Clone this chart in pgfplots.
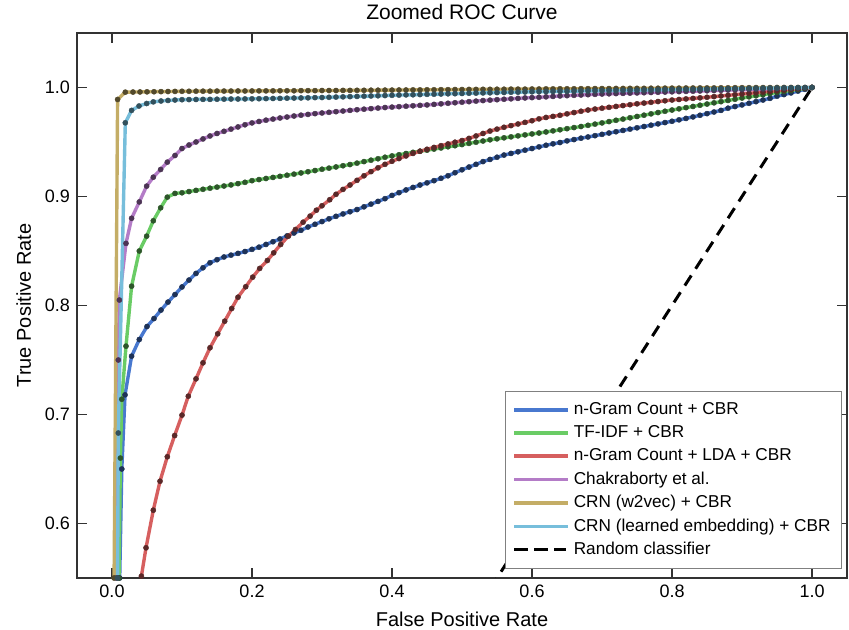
\documentclass[border=0pt]{standalone}
\usepackage{fontspec}
\setmainfont{Liberation Sans}
\usepackage{pgfplots}
\pgfplotsset{compat=1.18}

\definecolor{cblue}{HTML}{4878CF}
\definecolor{cgreen}{HTML}{6ACC65}
\definecolor{cred}{HTML}{D65F5F}
\definecolor{cpurple}{HTML}{B47CC7}
\definecolor{cgold}{HTML}{C4AD66}
\definecolor{ccyan}{HTML}{77BEDB}

\pgfplotsset{
  roc/.style={line width=1.7pt, color=#1, mark=*, mark size=1.3pt,
    mark options={solid, line width=0.2pt, draw=#1!42!black, fill=#1!42!black}},
}

\begin{document}
\begin{tikzpicture}
\useasboundingbox (-38.5pt,-26pt) rectangle (386pt,289pt);
\begin{axis}[
    at={(0,0)}, anchor=south west,
    scale only axis,
    width=385pt, height=272.5pt,
    xmin=-0.05, xmax=1.05,
    ymin=0.55, ymax=1.05,
    xtick={0,0.2,0.4,0.6,0.8,1},
    ytick={0.6,0.7,0.8,0.9,1},
    xticklabel style={/pgf/number format/.cd,fixed,fixed zerofill,precision=1},
    yticklabel style={/pgf/number format/.cd,fixed,fixed zerofill,precision=1},
    /pgf/number format/assume math mode=true,
    ticklabel style={font=\fontsize{9}{11}\selectfont},
    tick align=inside,
    major tick length=5pt,
    tick style={line width=0.8pt, black!80},
    axis line style={line width=1pt, black!80},
    title={Zoomed ROC Curve},
    title style={font=\fontsize{10.5}{12}\selectfont, yshift=-3pt},
    xlabel={False Positive Rate},
    ylabel={True Positive Rate},
    label style={font=\fontsize{10}{12}\selectfont},
    legend image code/.code={
      \draw[#1, mark=none] (1pt,0pt) -- (21pt,0pt);
      \path (0pt,0pt) -- (27pt,0pt);},
    legend style={at={(0.9935,0.0165)}, anchor=south east,
      draw=black!50, line width=0.5pt, fill=white,
      font=\fontsize{8.6}{10}\selectfont, cells={anchor=west},
      row sep=0pt, inner sep=3.5pt},
]
% n-Gram Count + CBR
\addplot[roc=cblue] coordinates {
(0.011,0.55)(0.014,0.65)(0.0186,0.718)(0.028,0.7535)(0.039,0.7688)(0.05,0.7807)
(0.06,0.788)(0.07,0.7958)(0.08,0.8031)(0.09,0.81)
(0.10,0.817)(0.11,0.8233)(0.12,0.8294)(0.13,0.8346)(0.14,0.8392)(0.15,0.842)
(0.16,0.8445)(0.17,0.8462)(0.18,0.8478)(0.19,0.8495)(0.20,0.8515)(0.21,0.8535)
(0.22,0.856)(0.23,0.8585)(0.24,0.861)(0.25,0.8638)(0.26,0.8665)(0.27,0.869)
(0.28,0.872)(0.29,0.8745)(0.30,0.877)(0.31,0.8795)(0.32,0.8818)(0.33,0.884)
(0.34,0.886)(0.35,0.888)(0.36,0.8905)(0.37,0.893)(0.38,0.8955)(0.39,0.898)
(0.40,0.901)(0.41,0.9035)(0.42,0.906)(0.43,0.9083)(0.44,0.9105)(0.45,0.9125)
(0.46,0.9145)(0.47,0.9167)(0.48,0.919)(0.49,0.9218)(0.50,0.9245)(0.51,0.927)
(0.52,0.9295)(0.53,0.932)(0.54,0.934)(0.55,0.936)(0.56,0.938)(0.57,0.9395)
(0.58,0.941)(0.59,0.9425)(0.60,0.944)(0.61,0.9455)(0.62,0.947)(0.63,0.9483)
(0.64,0.9495)(0.65,0.951)(0.66,0.9522)(0.67,0.9535)(0.68,0.9546)(0.69,0.9558)
(0.70,0.957)(0.71,0.9582)(0.72,0.9594)(0.73,0.9606)(0.74,0.9618)(0.75,0.963)
(0.76,0.9642)(0.77,0.9654)(0.78,0.9666)(0.79,0.9678)(0.80,0.969)(0.81,0.9703)
(0.82,0.9716)(0.83,0.973)(0.84,0.9745)(0.85,0.976)(0.86,0.9775)(0.87,0.979)
(0.88,0.981)(0.89,0.9825)(0.90,0.984)(0.91,0.9855)(0.92,0.987)(0.93,0.9885)
(0.94,0.990)(0.95,0.992)(0.96,0.9935)(0.97,0.995)(0.98,0.9967)(0.99,0.9983)(1.00,1.0)
};
\addlegendentry{n-Gram Count + CBR}
% TF-IDF + CBR
\addplot[roc=cgreen] coordinates {
(0.01,0.55)(0.012,0.66)(0.014,0.714)(0.02,0.7627)(0.028,0.8177)(0.039,0.85)
(0.0495,0.8636)(0.059,0.8777)(0.0695,0.8896)(0.079,0.8994)(0.09,0.9028)
(0.10,0.9034)(0.11,0.9045)(0.12,0.9056)(0.13,0.9066)(0.14,0.9076)(0.15,0.9086)
(0.16,0.9096)(0.17,0.9106)(0.18,0.9118)(0.19,0.913)(0.20,0.9145)(0.21,0.9155)
(0.22,0.9165)(0.23,0.9175)(0.24,0.9185)(0.25,0.9195)(0.26,0.9205)(0.27,0.9216)
(0.28,0.9227)(0.29,0.9238)(0.30,0.925)(0.31,0.926)(0.32,0.9271)(0.33,0.9282)
(0.34,0.9293)(0.35,0.9306)(0.36,0.932)(0.37,0.9333)(0.38,0.9346)(0.39,0.936)
(0.40,0.9372)(0.41,0.9383)(0.42,0.9394)(0.43,0.9405)(0.44,0.9415)(0.45,0.9425)
(0.46,0.9435)(0.47,0.9445)(0.48,0.9456)(0.49,0.9466)(0.50,0.9476)(0.51,0.9487)
(0.52,0.9498)(0.53,0.9509)(0.54,0.952)(0.55,0.9529)(0.56,0.9538)(0.57,0.9547)
(0.58,0.9556)(0.59,0.9565)(0.60,0.9574)(0.61,0.9582)(0.62,0.9592)(0.63,0.9602)
(0.64,0.9612)(0.65,0.9622)(0.66,0.9632)(0.67,0.9642)(0.68,0.9653)(0.69,0.9664)
(0.70,0.9675)(0.71,0.9687)(0.72,0.9699)(0.73,0.971)(0.74,0.9722)(0.75,0.9734)
(0.76,0.9746)(0.77,0.9758)(0.78,0.977)(0.79,0.9782)(0.80,0.9793)(0.81,0.9804)
(0.82,0.9815)(0.83,0.9826)(0.84,0.9837)(0.85,0.9848)(0.86,0.9859)(0.87,0.987)
(0.88,0.9881)(0.89,0.9892)(0.90,0.9903)(0.91,0.9914)(0.92,0.9924)(0.93,0.9934)
(0.94,0.9944)(0.95,0.9954)(0.96,0.9963)(0.97,0.9972)(0.98,0.9981)(0.99,0.9991)(1.00,1.0)
};
\addlegendentry{TF-IDF + CBR}
% n-Gram Count + LDA + CBR
\addplot[roc=cred] coordinates {
(0.042,0.5517)(0.0486,0.5777)(0.059,0.6122)(0.0686,0.6388)(0.079,0.6612)(0.0895,0.6807)
(0.1,0.6994)(0.109,0.7168)(0.12,0.7327)(0.13,0.7474)(0.14,0.7612)(0.151,0.774)
(0.161,0.7856)(0.171,0.7972)(0.18,0.8076)(0.191,0.8172)(0.201,0.826)(0.211,0.834)
(0.222,0.8413)(0.231,0.8483)(0.241,0.856)(0.252,0.8636)(0.262,0.8697)(0.273,0.8764)
(0.283,0.882)(0.292,0.8874)(0.30,0.8915)(0.311,0.897)
(0.32,0.902)(0.33,0.9065)(0.34,0.9105)(0.35,0.9148)(0.36,0.919)(0.37,0.9228)
(0.38,0.9263)(0.39,0.9295)(0.40,0.9323)(0.41,0.9348)(0.42,0.9372)(0.43,0.9395)
(0.44,0.9415)(0.45,0.9433)(0.46,0.945)(0.47,0.9466)(0.48,0.9482)(0.49,0.9498)
(0.50,0.9513)(0.51,0.9533)(0.52,0.9555)(0.53,0.9578)(0.54,0.960)(0.55,0.9618)
(0.56,0.9635)(0.57,0.965)(0.58,0.9665)(0.59,0.968)(0.60,0.9695)(0.61,0.9712)
(0.62,0.9725)(0.63,0.9735)(0.64,0.9745)(0.65,0.9758)(0.66,0.977)(0.67,0.9782)
(0.68,0.9793)(0.69,0.9802)(0.70,0.981)(0.71,0.9818)(0.72,0.9826)(0.73,0.9834)
(0.74,0.9842)(0.75,0.985)(0.76,0.9857)(0.77,0.9864)(0.78,0.9871)(0.79,0.9878)
(0.80,0.9885)(0.81,0.989)(0.82,0.9895)(0.83,0.99)(0.84,0.9905)(0.85,0.991)
(0.86,0.9916)(0.87,0.9922)(0.88,0.9928)(0.89,0.9934)(0.90,0.994)(0.91,0.9946)
(0.92,0.9952)(0.93,0.9958)(0.94,0.9964)(0.95,0.997)(0.96,0.9976)(0.97,0.9982)
(0.98,0.9988)(0.99,0.9994)(1.00,1.0)
};
\addlegendentry{n-Gram Count + LDA + CBR}
% Chakraborty et al.
\addplot[roc=cpurple] coordinates {
(0.006,0.55)(0.009,0.75)(0.0105,0.805)(0.02,0.857)(0.028,0.880)(0.039,0.895)
(0.0495,0.9095)(0.059,0.9177)(0.0695,0.9248)(0.079,0.9315)(0.09,0.9376)
(0.10,0.944)(0.11,0.9472)(0.12,0.950)(0.13,0.9528)(0.14,0.9555)(0.15,0.9578)
(0.16,0.9598)(0.17,0.9618)(0.18,0.9638)(0.19,0.9658)(0.20,0.9675)(0.21,0.9688)
(0.22,0.970)(0.23,0.971)(0.24,0.972)(0.25,0.9729)(0.26,0.9738)(0.27,0.9746)
(0.28,0.9753)(0.29,0.976)(0.30,0.9766)(0.31,0.9772)(0.32,0.9778)(0.33,0.9784)
(0.34,0.979)(0.35,0.9796)(0.36,0.9801)(0.37,0.9806)(0.38,0.9811)(0.39,0.9816)
(0.40,0.982)(0.41,0.9824)(0.42,0.9828)(0.43,0.9832)(0.44,0.9836)(0.45,0.984)
(0.46,0.9845)(0.47,0.985)(0.48,0.9855)(0.49,0.986)(0.50,0.9865)(0.51,0.987)
(0.52,0.9875)(0.53,0.988)(0.54,0.9884)(0.55,0.9888)(0.56,0.9892)(0.57,0.9896)
(0.58,0.99)(0.59,0.9904)(0.60,0.9907)(0.61,0.991)(0.62,0.9914)(0.63,0.9918)
(0.64,0.9922)(0.65,0.9925)(0.66,0.9928)(0.67,0.9931)(0.68,0.9934)(0.69,0.9937)
(0.70,0.994)(0.71,0.9942)(0.72,0.9944)(0.73,0.9946)(0.74,0.9948)(0.75,0.995)
(0.76,0.9952)(0.77,0.9954)(0.78,0.9956)(0.79,0.9958)(0.80,0.996)(0.81,0.9962)
(0.82,0.9964)(0.83,0.9966)(0.84,0.9968)(0.85,0.997)(0.86,0.9972)(0.87,0.9974)
(0.88,0.9976)(0.89,0.9978)(0.90,0.998)(0.91,0.9982)(0.92,0.9984)(0.93,0.9986)
(0.94,0.9988)(0.95,0.999)(0.96,0.9992)(0.97,0.9994)(0.98,0.9996)(0.99,0.9998)(1.00,1.0)
};
\addlegendentry{Chakraborty et al.}
% CRN (w2vec) + CBR
\addplot[roc=cgold] coordinates {
(0.003,0.55)(0.008,0.989)(0.019,0.9957)(0.03,0.9958)(0.04,0.9959)(0.05,0.996)
(0.06,0.9961)(0.07,0.9962)(0.08,0.9963)(0.09,0.9964)
(0.10,0.9965)(0.11,0.9965)(0.12,0.9966)(0.13,0.9966)(0.14,0.9966)(0.15,0.9967)
(0.16,0.9967)(0.17,0.9967)(0.18,0.9968)(0.19,0.9968)(0.20,0.9968)(0.21,0.9969)
(0.22,0.9969)(0.23,0.9969)(0.24,0.997)(0.25,0.997)(0.26,0.997)(0.27,0.9971)
(0.28,0.9971)(0.29,0.9971)(0.30,0.9972)(0.31,0.9972)(0.32,0.9972)(0.33,0.9973)
(0.34,0.9973)(0.35,0.9974)(0.36,0.9974)(0.37,0.9975)(0.38,0.9975)(0.39,0.9976)
(0.40,0.9976)(0.41,0.9977)(0.42,0.9977)(0.43,0.9978)(0.44,0.9978)(0.45,0.9979)
(0.46,0.9979)(0.47,0.998)(0.48,0.998)(0.49,0.9981)(0.50,0.9981)(0.51,0.9982)
(0.52,0.9982)(0.53,0.9983)(0.54,0.9983)(0.55,0.9984)(0.56,0.9984)(0.57,0.9985)
(0.58,0.9985)(0.59,0.9985)(0.60,0.9986)(0.61,0.9986)(0.62,0.9987)(0.63,0.9987)
(0.64,0.9988)(0.65,0.9988)(0.66,0.9988)(0.67,0.9989)(0.68,0.9989)(0.69,0.999)
(0.70,0.999)(0.71,0.999)(0.72,0.9991)(0.73,0.9991)(0.74,0.9992)(0.75,0.9992)
(0.76,0.9992)(0.77,0.9993)(0.78,0.9993)(0.79,0.9994)(0.80,0.9994)(0.81,0.9994)
(0.82,0.9995)(0.83,0.9995)(0.84,0.9996)(0.85,0.9996)(0.86,0.9996)(0.87,0.9997)
(0.88,0.9997)(0.89,0.9998)(0.90,0.9998)(0.91,0.9998)(0.92,0.9999)(0.93,0.9999)
(0.94,0.9999)(0.95,1.0)(0.96,1.0)(0.97,1.0)(0.98,1.0)(0.99,1.0)(1.00,1.0)
};
\addlegendentry{CRN (w2vec) + CBR}
% CRN (learned embedding) + CBR
\addplot[roc=ccyan] coordinates {
(0.008,0.55)(0.009,0.683)(0.019,0.9676)(0.028,0.979)(0.0386,0.983)(0.0495,0.9853)
(0.059,0.9868)(0.07,0.9876)(0.08,0.9881)(0.09,0.9885)
(0.10,0.9888)(0.11,0.9889)(0.12,0.989)(0.13,0.9891)(0.14,0.9891)(0.15,0.9892)
(0.16,0.9893)(0.17,0.9894)(0.18,0.9894)(0.19,0.9895)(0.20,0.9896)(0.21,0.9897)
(0.22,0.9898)(0.23,0.9899)(0.24,0.99)(0.25,0.9902)(0.26,0.9903)(0.27,0.9904)
(0.28,0.9905)(0.29,0.9907)(0.30,0.9908)(0.31,0.991)(0.32,0.9912)(0.33,0.9914)
(0.34,0.9916)(0.35,0.9918)(0.36,0.992)(0.37,0.9922)(0.38,0.9924)(0.39,0.9926)
(0.40,0.9928)(0.41,0.993)(0.42,0.9932)(0.43,0.9933)(0.44,0.9935)(0.45,0.9937)
(0.46,0.9938)(0.47,0.994)(0.48,0.9942)(0.49,0.9943)(0.50,0.9945)(0.51,0.9947)
(0.52,0.9948)(0.53,0.995)(0.54,0.9951)(0.55,0.9953)(0.56,0.9954)(0.57,0.9956)
(0.58,0.9957)(0.59,0.9959)(0.60,0.996)(0.61,0.9961)(0.62,0.9962)(0.63,0.9963)
(0.64,0.9964)(0.65,0.9965)(0.66,0.9966)(0.67,0.9967)(0.68,0.9968)(0.69,0.9969)
(0.70,0.997)(0.71,0.9971)(0.72,0.9972)(0.73,0.9973)(0.74,0.9974)(0.75,0.9975)
(0.76,0.9976)(0.77,0.9977)(0.78,0.9978)(0.79,0.9979)(0.80,0.998)(0.81,0.9981)
(0.82,0.9982)(0.83,0.9983)(0.84,0.9984)(0.85,0.9985)(0.86,0.9986)(0.87,0.9987)
(0.88,0.9988)(0.89,0.9989)(0.90,0.999)(0.91,0.9991)(0.92,0.9992)(0.93,0.9993)
(0.94,0.9994)(0.95,0.9995)(0.96,0.9996)(0.97,0.9997)(0.98,0.9998)(0.99,0.9999)(1.00,1.0)
};
\addlegendentry{CRN (learned embedding) + CBR}
% Random classifier
\addplot[black, line width=1.5pt, dash pattern=on 6pt off 4pt] coordinates {(0,0) (1,1)};
\addlegendentry{Random classifier}
\end{axis}
\end{tikzpicture}
\end{document}
